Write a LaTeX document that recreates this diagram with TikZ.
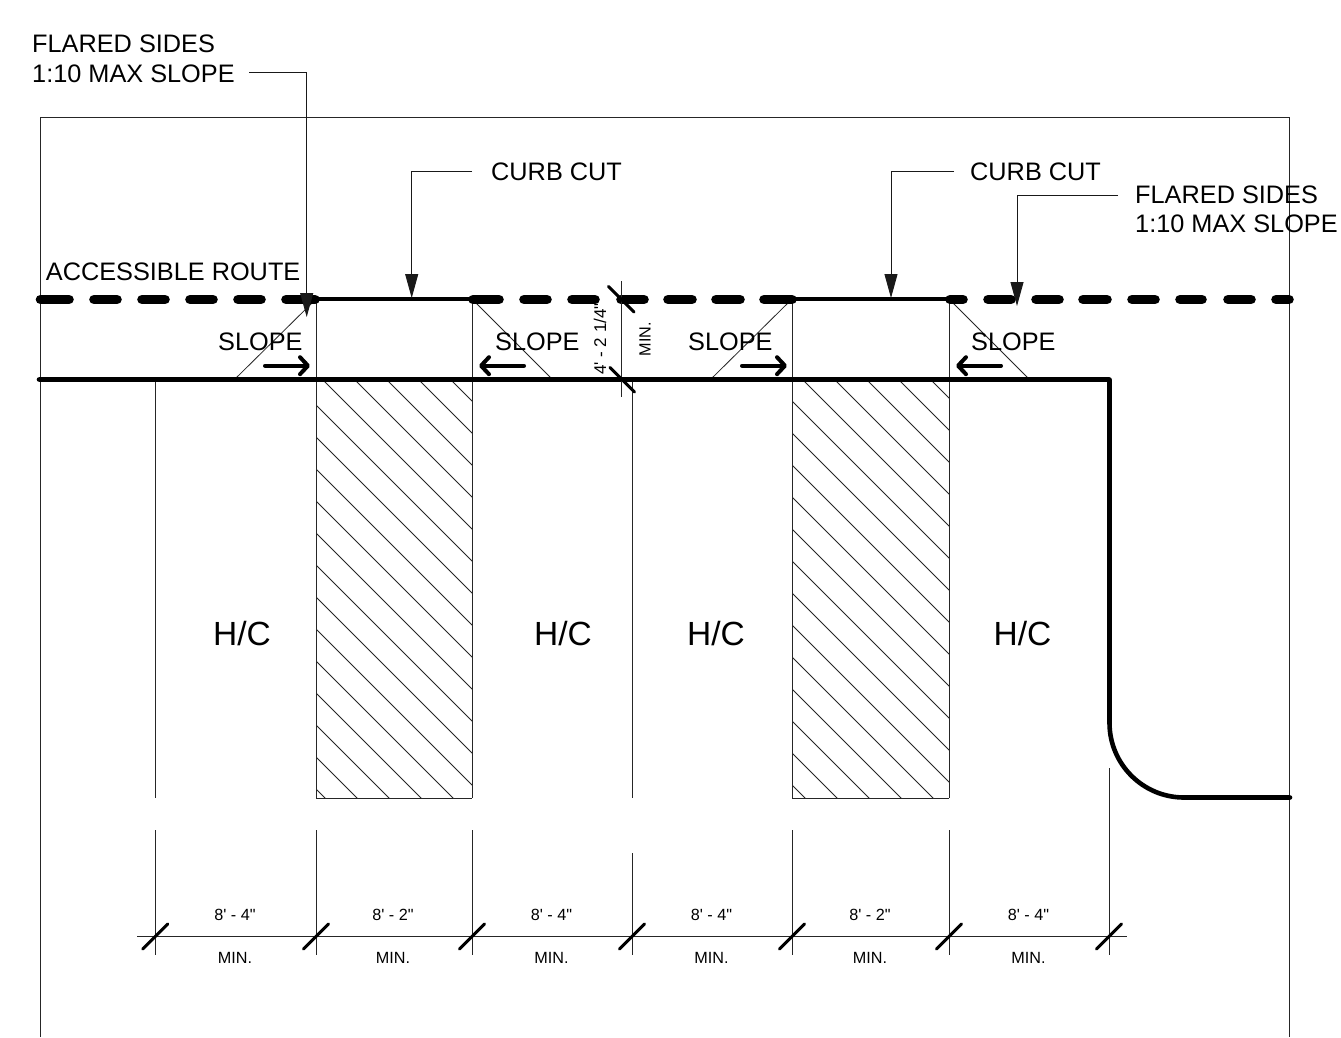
\documentclass[tikz,border=0pt]{standalone}
\usepackage{fontspec}
\setmainfont[Ligatures=TeXOff]{Liberation Sans}
\usetikzlibrary{arrows.meta}
\tikzset{
  thinline/.style={line width=1pt,black!85},
  hatchline/.style={line width=0.8pt,black!85},
  curbline/.style={line width=4.6pt,black,line cap=round,line join=round},
  dashline/.style={line width=9.6pt,black,line cap=round},
  ticks/.style={line width=3pt,black,line cap=round},
  leader/.style={line width=0.9pt,black!90,-{Triangle[length=24pt,width=13pt]}},
  slopearrow/.style={line width=4pt,black,line cap=round,-{Straight Barb[length=8pt,width=17pt,line cap=round,round]}},
  bigtext/.style={inner sep=0pt,anchor=base west,font=\fontsize{25.3}{29}\selectfont},
  hctext/.style={inner sep=0pt,font=\fontsize{33.5}{38}\selectfont},
  dimtext/.style={inner sep=0pt,font=\fontsize{16.2}{18}\selectfont},
  vdimtext/.style={inner sep=0pt,rotate=90,font=\fontsize{17}{19}\selectfont},
}
\begin{document}
\begin{tikzpicture}[x=1pt,y=-1pt]
\useasboundingbox (0,0) rectangle (1341,1037);
\fill[white] (0,0) rectangle (1341,1037);
% hatched islands
\begin{scope}
  \clip (316,380) rectangle (472,798);
  \foreach \k in {-4,...,13} {
    \pgfmathsetmacro{\c}{57+32*\k}
    \draw[hatchline] (300,300+\c) -- (490,490+\c);
  }
\end{scope}
\begin{scope}
  \clip (792,380) rectangle (949,798);
  \foreach \k in {-5,...,12} {
    \pgfmathsetmacro{\c}{32*\k-391+800}
    \draw[hatchline] (790,-10+\c) -- (960,160+\c);
  }
\end{scope}
% border
\coordinate (bl) at (40,1037);
\coordinate (tl) at (40,117);
\coordinate (tr) at (1289,117);
\coordinate (br) at (1289,1037);
\draw[thinline] (bl) -- (tl) -- (tr) -- (br);
% stall lines
\foreach \n/\x/\t/\b in {a/155/380/798,b/316/299/798,c/472/299/798,d/632/380/798,e/792/299/798,f/949/299/798}{
  \coordinate (\n top) at (\x,\t);
  \coordinate (\n bot) at (\x,\b);
  \draw[thinline] (\n top) -- (\n bot);
}
\draw[thinline] (bbot) -- (cbot);
\draw[thinline] (ebot) -- (fbot);
% flared sides
\coordinate (fl1a) at (234,380); \coordinate (fl1b) at (316,299);
\coordinate (fl2a) at (472,299); \coordinate (fl2b) at (553,380);
\coordinate (fl3a) at (710,380); \coordinate (fl3b) at (792,299);
\coordinate (fl4a) at (949,299); \coordinate (fl4b) at (1030,380);
\draw[hatchline] (fl1a) -- (fl1b);
\draw[hatchline] (fl2a) -- (fl2b);
\draw[hatchline] (fl3a) -- (fl3b);
\draw[hatchline] (fl4a) -- (fl4b);
% dimension extension lines
\foreach \n/\x/\t in {a/155/830,b/316/830,c/472/830,d/632/853,e/792/830,f/949/830,g/1109/768}{
  \coordinate (\n ext) at (\x,\t);
  \coordinate (\n dim) at (\x,955);
  \draw[thinline] (\n ext) -- (\n dim);
}
\coordinate (dimL) at (137,936.5);
\coordinate (dimR) at (1127,936.5);
\draw[thinline] (dimL) -- (dimR);
\foreach \x in {155.3,316,472,632,792,949,1109}{
  \draw[ticks] (\x-12.5,949) -- (\x+12.5,924);
}
% curb
\coordinate (curbL) at (39,379.5);
\coordinate (curbC) at (1109.5,379.5);
\coordinate (curbD) at (1109.5,723);
\coordinate (curbE) at (1184,797.5);
\coordinate (curbR) at (1290,797.5);
\draw[curbline] (curbL) -- (curbC) -- (curbD) .. controls (1109.5,764.1) and (1142.9,797.5) .. (curbE) -- (curbR);
% accessible route
\foreach \a/\b in {40.5/69,94/117,142/165,190/213,238/261,286/315,473/499,524/547,572/595,621/644,668/692,716/740,764/792,950/963,988/1011,1036/1059,1083/1107,1132/1155,1180/1202,1228/1251,1276/1289}{
  \draw[dashline] (\a,299.5) -- (\b,299.5);
}
\coordinate (walkA) at (316,299);
\coordinate (walkB) at (470,299);
\coordinate (walkC) at (792,299);
\coordinate (walkD) at (947,299);
\draw[curbline] (walkA) -- (walkB);
\draw[curbline] (walkC) -- (walkD);
% vertical dimension
\coordinate (vt) at (621.5,281);
\coordinate (vb) at (621.5,397);
\draw[thinline] (vt) -- (vb);
\draw[ticks] (608.5,286.5) -- (634,312);
\draw[ticks] (610,367.5) -- (634.5,392);
% slope arrows
\coordinate (s1a) at (265,365.7); \coordinate (s1b) at (310,365.7);
\coordinate (s2a) at (524,365.7); \coordinate (s2b) at (479,365.7);
\coordinate (s3a) at (742,365.7); \coordinate (s3b) at (787,365.7);
\coordinate (s4a) at (1001,365.7); \coordinate (s4b) at (956,365.7);
\draw[slopearrow] (s1a) -- (s1b);
\draw[slopearrow] (s2a) -- (s2b);
\draw[slopearrow] (s3a) -- (s3b);
\draw[slopearrow] (s4a) -- (s4b);
% labels
\node[bigtext] (flA1) at (32,52.7) {FLARED SIDES};
\node[bigtext] (flA2) at (32,82) {1:10 MAX SLOPE};
\node[bigtext] (route) at (45.7,280) {ACCESSIBLE ROUTE};
\node[bigtext] (cc1) at (491,180) {CURB CUT};
\node[bigtext] (cc2) at (970,180) {CURB CUT};
\node[bigtext] (flB1) at (1135,203) {FLARED SIDES};
\node[bigtext] (flB2) at (1135,232.7) {1:10 MAX SLOPE};
\node[bigtext] (sl1) at (218,350.7) {SLOPE};
\node[bigtext] (sl2) at (495,350.7) {SLOPE};
\node[bigtext] (sl3) at (688,350.7) {SLOPE};
\node[bigtext] (sl4) at (971,350.7) {SLOPE};
\node[hctext] (hc1) at (242,634) {H/C};
\node[hctext] (hc2) at (563,634) {H/C};
\node[hctext] (hc3) at (716,634) {H/C};
\node[hctext] (hc4) at (1022.5,634) {H/C};
\foreach \n/\x/\t in {a/235/8' - 4",b/393/8' - 2",c/551.5/8' - 4",d/711.5/8' - 4",e/870/8' - 2",f/1028.5/8' - 4"}{
  \node[dimtext] (dt\n) at (\x,915) {\t};
  \node[dimtext] (dm\n) at (\x,958) {MIN.};
}
\node[vdimtext] (vdim) at (600,339) {4' - 2 1/4"};
\node[vdimtext,font=\fontsize{16.2}{18}\selectfont] (vmin) at (645,339) {MIN.};
% leaders
\coordinate (l1s) at (249,72.7); \coordinate (l1c) at (306.7,72.7); \coordinate (l1e) at (306.7,317);
\coordinate (l2s) at (472,171); \coordinate (l2c) at (411.7,171); \coordinate (l2e) at (411.7,298);
\coordinate (l3s) at (954,171.3); \coordinate (l3c) at (891,171.3); \coordinate (l3e) at (891,298);
\coordinate (l4s) at (1118,195.3); \coordinate (l4c) at (1017,195.3); \coordinate (l4e) at (1017,306);
\draw[leader] (l1s) -- (l1c) -- (l1e);
\draw[leader] (l2s) -- (l2c) -- (l2e);
\draw[leader] (l3s) -- (l3c) -- (l3e);
\draw[leader] (l4s) -- (l4c) -- (l4e);
\end{tikzpicture}
\end{document}
